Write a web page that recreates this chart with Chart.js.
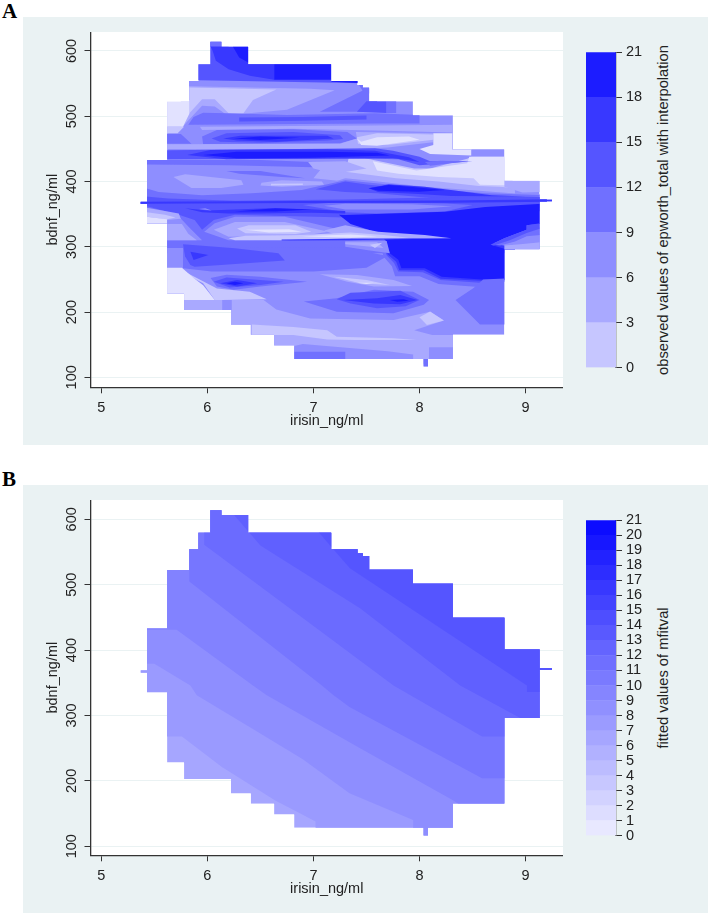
<!DOCTYPE html>
<html>
<head>
<meta charset="utf-8">
<title>irisin bdnf contour</title>
<script src="https://cdn.jsdelivr.net/npm/chart.js@4/dist/chart.umd.min.js"></script>
<style>
  html, body { margin: 0; background: #fff; }
  body { position: relative; width: 709px; height: 915px; overflow: hidden; font-family: "Liberation Sans", sans-serif; color: #222; }
  .panel { position: absolute; left: 23px; width: 685px; height: 428px; background: #eaf2f3; }
  canvas { position: absolute; }
  .letter { position: absolute; left: 2px; font: bold 21px "Liberation Serif", serif; color: #000; }
  .barTitle { position: absolute; left: 663px; white-space: nowrap; font-size: 14.7px; transform: translate(-50%, -50%) rotate(-90deg); }
</style>
</head>
<body>
<div class="panel" style="top:17px"></div>
<div class="panel" style="top:485px"></div>
<div class="letter" style="top:-1px">A</div>
<div class="letter" style="top:467px">B</div>
<div class="barTitle" style="top:210px">observed values of epworth_total with interpolation</div>
<div class="barTitle" style="top:678px">fitted values of mfitval</div>
<canvas id="mainA" width="519" height="399" style="left:44px;top:32px"></canvas>
<canvas id="barA" width="64" height="336" style="left:586px;top:42px"></canvas>
<canvas id="mainB" width="519" height="399" style="left:44px;top:500px"></canvas>
<canvas id="barB" width="64" height="336" style="left:586px;top:510px"></canvas>
<script>
const xTicks = [5, 6, 7, 8, 9];
const yTicks = [100, 200, 300, 400, 500, 600];

// outline of the observed data, same in both panels
const outlineX = [6.028, 6.132, 6.132, 6.384, 6.384, 7.167, 7.167, 7.415, 7.415, 7.466, 7.466, 7.525, 7.525, 7.938, 7.938, 8.315, 8.315, 8.80, 8.80, 9.132, 9.132, 9.249, 9.249, 9.132, 9.132, 8.80, 8.80, 8.315, 8.315, 8.08, 8.08, 8.038, 8.038, 6.818, 6.818, 6.629, 6.629, 6.409, 6.409, 6.223, 6.223, 5.78, 5.78, 5.62, 5.62, 5.431, 5.431, 5.371, 5.371, 5.431, 5.431, 5.62, 5.62, 5.827, 5.827, 5.915, 5.915, 6.028];
const outlineY = [614, 614, 606.6, 606.6, 579.6, 579.6, 554, 554, 548, 548, 544, 544, 523, 523, 501.5, 501.5, 449.5, 449.5, 401, 401, 372.5, 372.5, 369.5, 369.5, 296.3, 296.3, 165.4, 165.4, 128.2, 128.2, 116.5, 116.5, 128.2, 128.2, 148.6, 148.6, 165.2, 165.2, 180.7, 180.7, 203, 203, 228, 228, 335.6, 335.6, 365.5, 365.5, 369, 369, 433, 433, 522.4, 522.4, 554, 554, 579.6, 579.6];

const barBoundsA = [0, 3, 6, 9, 12, 15, 18, 21];
const barColorsA = ['#c6c6ff', '#a9a9ff', '#8e8eff', '#7070ff', '#5555ff', '#3838ff', '#1c1cff'];
const barBoundsB = [0, 1, 2, 3, 4, 5, 6, 7, 8, 9, 10, 11, 12, 13, 14, 15, 16, 17, 18, 19, 20, 21];
const barColorsB = ['#e8e8ff', '#ddddff', '#d2d2ff', '#c7c7ff', '#bcbcff', '#b1b1ff', '#a6a6ff', '#9b9bff', '#9090ff', '#8585ff', '#7a7aff', '#6f6fff', '#6464ff', '#5959ff', '#4e4eff', '#4343ff', '#3838ff', '#2d2dff', '#2222ff', '#1717ff', '#0c0cff'];

// shades used for panel A, 0 is the palest
const shadesA = ['#e2e2ff', '#c6c6ff', '#a9a9ff', '#8e8eff', '#7070ff', '#5555ff', '#3838ff', '#1c1cff'];

// panel A contour patches, painted in order: [shade, [x, y, x, y, ...]]
const patchesA = [
  // top cap
  [5, [5.8,555.6, 7.6,550, 7.6,620, 5.8,620]],
  [4, [6.0,606, 6.2,606, 6.2,620, 6.0,620]],
  [6, [6.03,607, 6.39,607, 6.39,580, 6.63,580, 6.63,556, 6.4,562, 6.2,572, 6.08,585, 6.05,600]],
  [7, [6.24,607, 6.39,607, 6.39,582, 6.3,590]],
  [7, [6.63,581, 7.17,581, 7.17,556, 6.63,556]],
  [7, [7.17,556, 7.42,556, 7.42,551, 7.17,553]],
  [4, [7.42,550, 7.6,550, 7.6,535, 7.48,535]],
  // pale shoulder
  [2, [5.83,546, 6.97,542, 7.2,540, 6.75,510, 6.34,504, 6.2,500, 6.07,515, 5.95,516, 5.8,490, 5.75,480, 5.75,546]],
  [1, [5.83,544, 6.65,541, 6.43,525, 6.34,504.5, 6.2,504.5, 6.07,526, 5.95,526, 5.83,504.5]],
  [0, [5.6,525, 5.83,525, 5.83,504, 5.77,484, 5.6,484]],
  [1, [5.6,484, 5.78,484, 5.72,474, 5.6,474]],
  [4, [7.06,507, 7.47,540, 7.6,546, 7.6,507]],
  [5, [7.41,507, 7.5,523, 7.69,523, 7.69,505]],
  [4, [7.69,523, 7.78,523, 7.78,505, 7.69,505]],
  // row near 495
  [4, [5.82,487, 5.87,499, 5.96,505.5, 6.18,504.5, 6.75,502, 7.58,504.5, 8.0,502, 8.0,489, 7.58,489, 5.87,487]],
  [5, [6.3,498, 6.9,499, 7.5,501, 7.5,495, 6.9,493, 6.3,492]],
  [2, [5.93,484, 6.8,485, 7.58,486, 8.31,487, 8.31,475, 7.58,478, 6.8,481, 5.95,479]],
  // eye near 468
  [4, [5.6,473, 5.75,473, 5.85,458, 5.6,458]],
  [4, [5.95,469, 6.09,479, 6.81,480, 7.32,476, 7.41,466, 7.25,458.5, 5.96,457.5]],
  [5, [6.04,466, 6.18,474, 6.81,476, 7.25,471, 7.28,465, 7.13,463, 6.5,459.5, 6.12,461]],
  [6, [6.15,466, 6.31,470, 7.13,470, 7.19,466, 6.65,461, 6.28,463]],
  [7, [6.25,466, 6.5,469, 6.87,467, 6.5,463.6]],
  // pale streak near 455, right side
  [2, [5.62,457, 7.25,458, 7.41,466, 7.4,476, 8.13,474, 8.13,460, 7.7,452, 7.4,450, 5.62,450]],
  [1, [7.41,468, 7.6,474, 8.13,472, 8.13,464, 7.7,456, 7.42,458]],
  [0, [7.41,466, 7.45,461, 7.6,468, 7.9,469, 8.0,464, 7.6,455, 7.45,456]],
  // pale zone on the right
  [0, [8.13,474, 8.31,474, 8.31,449, 8.49,449, 8.49,440, 8.1,442, 8.0,450, 8.13,456]],
  [3, [8.49,449, 8.8,449, 8.8,438, 8.49,438]],
  [2, [7.1,425, 7.5,425, 7.9,414, 8.9,400, 8.9,380, 8.3,386, 7.3,400, 7.0,405]],
  [1, [7.34,441, 7.6,432, 7.95,420, 8.1,420, 8.45,435, 8.49,438, 8.8,438, 8.9,390, 8.75,392, 8.56,393, 8.18,400, 7.78,405, 7.3,415]],
  [0, [7.56,431, 7.97,417, 8.45,428, 8.47,438, 8.8,438, 8.9,394, 8.57,395, 8.51,405, 8.18,407, 7.8,412, 7.6,417]],
  // dark line near 443
  [5, [5.62,448, 7.58,451, 7.75,447, 8.0,438, 8.1,431, 8.5,431, 8.0,425, 7.8,434, 7.58,435, 5.62,434]],
  [6, [5.81,440.7, 6.03,448.4, 7.13,449.3, 7.58,447, 7.9,437, 8.0,430, 7.75,436, 7.13,435.6, 6.18,434]],
  [7, [5.96,440.7, 6.28,445.8, 7.13,445.8, 7.6,444, 7.72,440, 7.3,438, 6.97,436.6, 6.28,435.6]],
  [4, [8.05,430, 8.1,424, 8.45,431, 8.2,432]],
  // middle left, 385 to 430
  [4, [5.43,433, 6.5,433, 7.3,428, 7.0,422, 6.2,425, 5.43,426]],
  [4, [6.18,416, 6.5,416, 6.92,405, 6.7,407, 6.3,412]],
  [2, [5.68,407, 5.79,411, 6.32,402, 6.34,395, 6.13,390, 5.85,390]],
  [2, [6.51,398, 6.7,402, 7.08,400, 7.1,395, 6.7,392, 6.5,394]],
  [1, [6.6,396.5, 6.9,397, 6.9,394.5, 6.6,394]],
  [2, [6.95,430, 7.3,431, 7.5,420, 7.2,412, 7.0,420]],
  // dark band running to the right edge
  [2, [8.8,401, 9.14,401, 9.14,384, 8.97,383, 8.8,392]],
  [3, [7.05,392, 7.3,405, 7.61,400, 8.05,392, 8.56,386, 8.97,381, 9.2,381, 9.2,360, 7.05,360]],
  [4, [5.35,393, 5.54,384, 5.95,379, 6.42,382, 6.89,387, 7.3,402, 7.61,397, 8.05,389.5, 8.62,382, 9.2,379, 9.2,290, 5.35,290]],
  [5, [7.02,388, 7.3,400, 7.52,395, 8.05,387, 8.7,378, 9.2,376, 9.2,366, 8.3,372, 7.6,382, 7.3,384]],
  [6, [7.52,389.5, 7.71,396, 8.05,392, 8.24,388, 8.68,379, 9.0,377, 8.3,378, 7.99,381, 7.61,384]],
  [7, [7.52,389.5, 7.71,394.6, 7.99,391, 8.24,387, 7.99,384.4, 7.61,386]],
  [5, [5.35,378, 5.63,374, 6.26,370.6, 6.89,371.6, 7.3,372.6, 8.0,375, 9.2,376, 9.2,355, 7.3,345, 6.26,349, 6.06,341, 5.95,326, 5.88,341, 5.73,349, 5.43,362, 5.35,362]],
  [4, [6.9,364, 7.3,369, 8.24,366.5, 8.5,364, 8.24,354, 7.61,351, 7.3,353]],
  [3, [7.1,363, 7.3,366, 7.93,365, 8.31,362, 7.93,357, 7.3,357]],
  [6, [5.35,369, 6.9,370, 8.3,371, 9.25,373, 9.25,369, 8.3,367.5, 6.9,367, 5.35,366]],
  // thin eye near 355
  [6, [5.79,359, 6.0,355.5, 6.58,359, 6.98,357.5, 7.3,355, 7.3,351, 6.98,352, 6.5,351, 6.2,351, 5.95,353]],
  [7, [6.26,354, 6.64,359, 6.98,357, 6.64,354]],
  [3, [5.92,358, 6.04,355.5, 5.98,359]],
  // left edge
  [3, [5.74,345, 5.85,326, 5.95,310, 5.62,310, 5.62,345]],
  [2, [5.62,335, 5.76,335, 5.82,320, 5.9,310, 5.62,310]],
  [2, [5.43,360, 5.73,351, 5.75,343, 5.62,341, 5.43,346]],
  [1, [5.43,353, 5.6,349, 5.7,345, 5.62,342, 5.43,346]],
  [0, [5.43,346, 5.62,342, 5.62,335, 5.43,335]],
  // big dark block lower right
  [4, [7.62,310, 7.66,285, 7.74,270, 7.77,255, 8.0,255, 8.18,243, 8.59,238, 8.9,250, 8.9,300, 7.7,310]],
  [5, [7.65,308, 7.69,287, 7.76,275, 7.8,262, 8.03,261, 8.2,249, 8.57,245, 8.9,250, 8.9,305]],
  [6, [7.67,308, 7.7,288, 7.78,277, 7.81,264, 8.04,264, 8.2,251, 8.58,248, 8.9,250, 8.9,305]],
  [7, [7.24,349, 7.3,348.6, 8.24,353.8, 8.62,361, 9.2,366.5, 9.2,336, 9.01,333, 9.01,326, 8.8,313, 8.67,303, 8.8,297, 8.8,250, 8.59,250, 8.21,254, 8.05,267, 7.83,267, 7.8,280, 7.72,290, 7.69,308, 7.6,322, 7.35,335]],
  [2, [8.8,303, 8.95,305, 9.14,308, 9.14,296, 8.8,296]],
  [3, [8.75,303, 8.9,309, 9.01,317, 9.14,320, 9.14,307, 8.95,304, 8.8,302]],
  [4, [8.7,303, 8.85,311, 9.01,322, 9.14,330, 9.14,318, 9.01,316, 8.9,308, 8.76,302]],
  [5, [8.67,303, 8.8,313, 9.01,326, 9.01,333, 9.14,336, 9.14,328, 9.01,321, 8.85,310, 8.7,302]],
  [4, [8.51,237, 8.6,250, 8.9,252, 8.9,181, 8.57,181, 8.34,218.4]],
  // bright streaks near 320
  [3, [5.97,323, 6.07,336, 6.26,346, 6.73,346, 7.2,328, 7.35,320, 7.35,311, 6.2,310]],
  [2, [6.06,326, 6.26,338, 6.73,338, 7.14,323, 6.95,318, 6.2,315.5]],
  [1, [6.28,328, 6.39,333, 6.83,333, 6.98,323, 6.83,319.5, 6.36,320.6]],
  [0, [6.36,326, 6.77,327, 6.89,323, 6.58,322]],
  [2, [7.1,325, 7.3,333, 7.61,323, 8.05,318, 8.3,313, 7.61,311.4, 7.3,313]],
  [1, [6.2,313, 6.36,317, 6.89,318, 7.35,322, 7.66,318, 7.9,314, 7.35,312.9, 6.7,310, 6.26,310]],
  [0, [6.89,316, 7.35,319, 7.6,316, 7.35,314]],
  [6, [6.7,311, 7.35,312.5, 8.3,313, 7.35,310, 6.7,309.5]],
  // between the line and the dark block
  [3, [7.3,309, 7.69,309, 7.72,290, 7.5,295, 7.3,300]],
  [2, [7.3,307, 7.6,307, 7.66,298, 7.3,304]],
  [1, [7.53,303, 7.65,306, 7.58,298]],
  // eye near 290
  [3, [5.62,298, 5.77,298, 5.77,267, 5.62,267]],
  [4, [5.77,300, 7.3,299, 7.7,286, 7.5,268, 7.0,262, 6.04,262, 5.77,267]],
  [5, [5.77,304, 6.26,297.6, 6.67,290, 6.73,279, 6.13,272, 5.88,269.5, 5.84,272, 5.79,285]],
  [6, [5.84,292.5, 6.01,287.4, 5.87,279.7]],
  // pale lower left
  [2, [5.78,218.4, 6.53,218.4, 6.65,204, 6.97,190, 7.755,188, 8.1,200.5, 8.23,187, 7.95,172, 8.12,165, 8.35,165, 8.35,120, 6.0,120, 5.78,203]],
  [1, [5.76,264, 5.84,254, 5.96,244, 6.07,218.4, 6.14,218.4, 6.56,219.5, 6.4,231, 6.09,236]],
  [0, [5.6,268, 5.76,268, 5.87,252, 5.96,241, 6.07,218.4, 5.78,218.4, 5.78,228.6, 5.6,228.6]],
  [3, [6.14,218.4, 6.23,218.4, 6.23,203, 6.14,203]],
  // eye near 246
  [4, [6.03,252, 6.18,257, 6.5,254, 6.94,246.5, 6.5,239, 6.25,234, 6.09,239]],
  [5, [6.06,246.5, 6.18,253, 6.72,246.5, 6.5,241.4, 6.21,237.8]],
  [6, [6.12,244, 6.28,249, 6.47,244, 6.28,239]],
  [7, [6.18,244, 6.26,246.5, 6.34,244, 6.26,241.4]],
  // right of the eye
  [2, [7.06,258, 7.41,256.7, 7.755,249, 7.93,240, 7.57,239, 7.32,246.5]],
  [1, [7.19,254, 7.5,249, 7.72,241.4, 7.44,244]],
  [0, [7.41,245, 7.57,245, 7.5,243]],
  // eye near 218
  [4, [6.91,216, 7.22,221, 7.57,234, 7.94,231, 8.09,218.4, 8.04,211, 7.755,198, 7.22,200.6]],
  [5, [7.22,219.5, 7.35,229.6, 7.82,232.7, 8.0,218.4, 7.87,209, 7.6,205.7, 7.35,213]],
  [6, [7.28,218.4, 7.6,221, 7.82,226, 7.98,218.4, 7.82,211.8, 7.57,213]],
  [7, [7.72,218.4, 7.85,219.5, 7.9,217.4, 7.79,215.9]],
  // bottom strips
  [1, [8.1,201, 8.23,187, 8.07,180, 8.0,192]],
  [1, [6.42,181, 6.81,177, 7.13,172, 7.22,162, 7.755,160, 7.97,157, 7.4,157, 7.13,158, 6.81,165, 6.42,165]],
  [3, [6.82,148, 6.9,151, 7.7,140, 7.94,135, 7.94,127, 6.8,127]],
  [4, [6.82,139.3, 7.3,139.3, 7.3,127.5, 6.82,127.5]],
  [3, [8.09,146, 8.33,146, 8.33,127, 8.09,127]],
  [4, [8.0,128, 8.1,128, 8.1,112, 8.0,112]]
];

// panel B: contour edges of the fitted surface, low to high
const edgeB1X = [5.3, 5.76, 6.14, 6.22, 6.64, 6.89, 7.02, 7.02];
const edgeB1Y = [268, 268, 221, 213, 170, 149, 138, 110];
const edgeB2X = [5.3, 5.5, 5.84, 5.9, 6.39, 6.9, 7.34, 7.94, 7.94];
const edgeB2Y = [379, 379, 346, 331, 283, 233, 181, 140, 110];
const edgeB3X = [5.3, 5.71, 6.43, 6.56, 7.44, 8.32, 8.5];
const edgeB3Y = [431, 431, 346, 331, 250, 170, 150];
const edgeB4X = [5.83, 5.83, 7.08, 7.19, 7.34, 8.59, 9.5];
const edgeB4Y = [640, 505, 346, 331, 313, 204, 204];
const edgeB5X = [5.97, 5.97, 6.7, 7.755, 8.59, 9.5];
const edgeB5Y = [640, 561, 473, 346, 268, 268];
const edgeB6X = [6.25, 6.25, 6.5, 7.44, 8.384, 8.95, 9.5];
const edgeB6Y = [640, 607, 560, 464, 346, 296, 240];
const edgeB7X = [7.05, 7.05, 7.167, 7.344, 9.013, 9.013, 9.5];
const edgeB7Y = [640, 580, 558, 525, 346, 336, 336];
const shadesB = ['#a6a6ff', '#9a9aff', '#8e8eff', '#8282ff', '#7676ff', '#6b6bff', '#6060ff', '#5555ff'];

const axisColor = '#333';
const textColor = '#222';
const gridColor = '#eaf2f3';
const fontFamily = '"Liberation Sans", sans-serif';

function toPoints(xs, ys) {
    return xs.map((x, i) => ({ x: x, y: ys[i] }));
}

function polygon(points, color) {
    return {
        data: points,
        showLine: true,
        fill: 'shape',
        backgroundColor: color,
        borderWidth: 0,
        pointRadius: 0,
        tension: 0
    };
}

// Chart.js paints the first dataset last, so flip the painting list
function paintedInOrder(list) {
    return list.slice().reverse();
}

const outlinePoints = toPoints(outlineX, outlineY);

function datasetsA() {
    const list = [polygon(outlinePoints, shadesA[3])];
    patchesA.forEach(patch => {
        const flat = patch[1];
        const points = [];
        for (let i = 0; i < flat.length; i += 2) {
            points.push({ x: flat[i], y: flat[i + 1] });
        }
        list.push(polygon(points, shadesA[patch[0]]));
    });
    return paintedInOrder(list);
}

function datasetsB() {
    const list = [polygon(outlinePoints, shadesB[0])];
    const edges = [[edgeB1X, edgeB1Y], [edgeB2X, edgeB2Y], [edgeB3X, edgeB3Y], [edgeB4X, edgeB4Y], [edgeB5X, edgeB5Y], [edgeB6X, edgeB6Y], [edgeB7X, edgeB7Y]];
    edges.forEach((edge, i) => {
        // close each edge through the top right so everything above it is covered
        const points = toPoints(edge[0], edge[1]);
        points.push({ x: 9.5, y: 100 }, { x: 9.5, y: 640 }, { x: 5.3, y: 640 });
        list.push(polygon(points, shadesB[i + 1]));
    });
    return paintedInOrder(list);
}

// white plot area on the tinted panel
const plotBackground = {
    id: 'plotBackground',
    beforeDraw(chart) {
        const { ctx, chartArea: a } = chart;
        ctx.save();
        ctx.fillStyle = '#fff';
        ctx.fillRect(a.left, a.top, a.right - a.left, a.bottom - a.top);
        ctx.restore();
    }
};

// keep the contour patches inside the data outline
const outlineClip = {
    id: 'outlineClip',
    beforeDatasetsDraw(chart) {
        const { ctx, scales } = chart;
        ctx.save();
        ctx.beginPath();
        outlinePoints.forEach((p, i) => {
            const px = scales.x.getPixelForValue(p.x);
            const py = scales.y.getPixelForValue(p.y);
            if (i === 0) ctx.moveTo(px, py); else ctx.lineTo(px, py);
        });
        ctx.closePath();
        ctx.clip();
    },
    afterDatasetsDraw(chart) {
        chart.ctx.restore();
    }
};

// the axes should not push the plot area in for half a tick label
function noLabelMargins(scale) {
    scale.paddingTop = 0;
    scale.paddingBottom = 0;
    scale.paddingLeft = 0;
    scale.paddingRight = 0;
}

function drawContour(id, datasets, yMin, yMax, plotHeight) {
    new Chart(document.getElementById(id), {
        type: 'scatter',
        data: { datasets: datasets },
        plugins: [plotBackground, outlineClip],
        options: {
            responsive: false,
            animation: false,
            events: [],
            layout: { padding: 0 },
            plugins: { legend: { display: false }, tooltip: { enabled: false } },
            scales: {
                x: {
                    type: 'linear',
                    min: 4.898,
                    max: 9.353,
                    afterBuildTicks: scale => { scale.ticks = xTicks.map(v => ({ value: v })); },
                    afterFit: scale => { noLabelMargins(scale); scale.height = 399 - plotHeight; },
                    border: { color: axisColor, width: 1.3 },
                    grid: { drawOnChartArea: false, tickColor: axisColor, tickLength: 6, tickWidth: 1 },
                    ticks: { color: textColor, padding: 6, maxRotation: 0, font: { family: fontFamily, size: 14.5 } },
                    title: { display: true, text: 'irisin_ng/ml', color: textColor, padding: { top: 0, bottom: 1 }, font: { family: fontFamily, size: 14.5 } }
                },
                y: {
                    type: 'linear',
                    min: yMin,
                    max: yMax,
                    afterBuildTicks: scale => { scale.ticks = yTicks.map(v => ({ value: v })); },
                    afterFit: scale => { noLabelMargins(scale); scale.width = 46.5; },
                    border: { color: axisColor, width: 1.3 },
                    grid: { color: gridColor, lineWidth: 1, tickColor: axisColor, tickLength: 6, tickWidth: 1 },
                    ticks: { color: textColor, padding: 0.5, minRotation: 90, maxRotation: 90, crossAlign: 'center', autoSkip: false, font: { family: fontFamily, size: 14.5 } },
                    title: { display: true, text: 'bdnf_ng/ml', color: textColor, padding: 0, font: { family: fontFamily, size: 14.5 } }
                }
            }
        }
    });
}

function drawColorBar(id, bounds, colors) {
    new Chart(document.getElementById(id), {
        type: 'bar',
        data: {
            labels: [''],
            datasets: colors.map((color, i) => ({
                data: [[bounds[i], bounds[i + 1]]],
                backgroundColor: color,
                borderWidth: 0,
                grouped: false,
                barPercentage: 1,
                categoryPercentage: 1
            }))
        },
        options: {
            responsive: false,
            animation: false,
            events: [],
            layout: { padding: { top: 10.3, bottom: 10.3 } },
            plugins: { legend: { display: false }, tooltip: { enabled: false } },
            scales: {
                x: { display: false },
                y: {
                    position: 'right',
                    min: 0,
                    max: 21,
                    afterBuildTicks: scale => { scale.ticks = bounds.map(v => ({ value: v })); },
                    afterFit: scale => { noLabelMargins(scale); scale.width = 34; },
                    border: { color: '#555', width: 1.3 },
                    grid: { drawOnChartArea: false, tickColor: axisColor, tickLength: 6, tickWidth: 1 },
                    ticks: { color: textColor, padding: 4, autoSkip: false, font: { family: fontFamily, size: 14.5 } }
                }
            }
        }
    });
}

drawContour('mainA', datasetsA(), 84.7, 629.1, 355.3);
drawColorBar('barA', barBoundsA, barColorsA);
drawContour('mainB', datasetsB(), 86.2, 629.5, 355.3);
drawColorBar('barB', barBoundsB, barColorsB);
</script>
</body>
</html>
